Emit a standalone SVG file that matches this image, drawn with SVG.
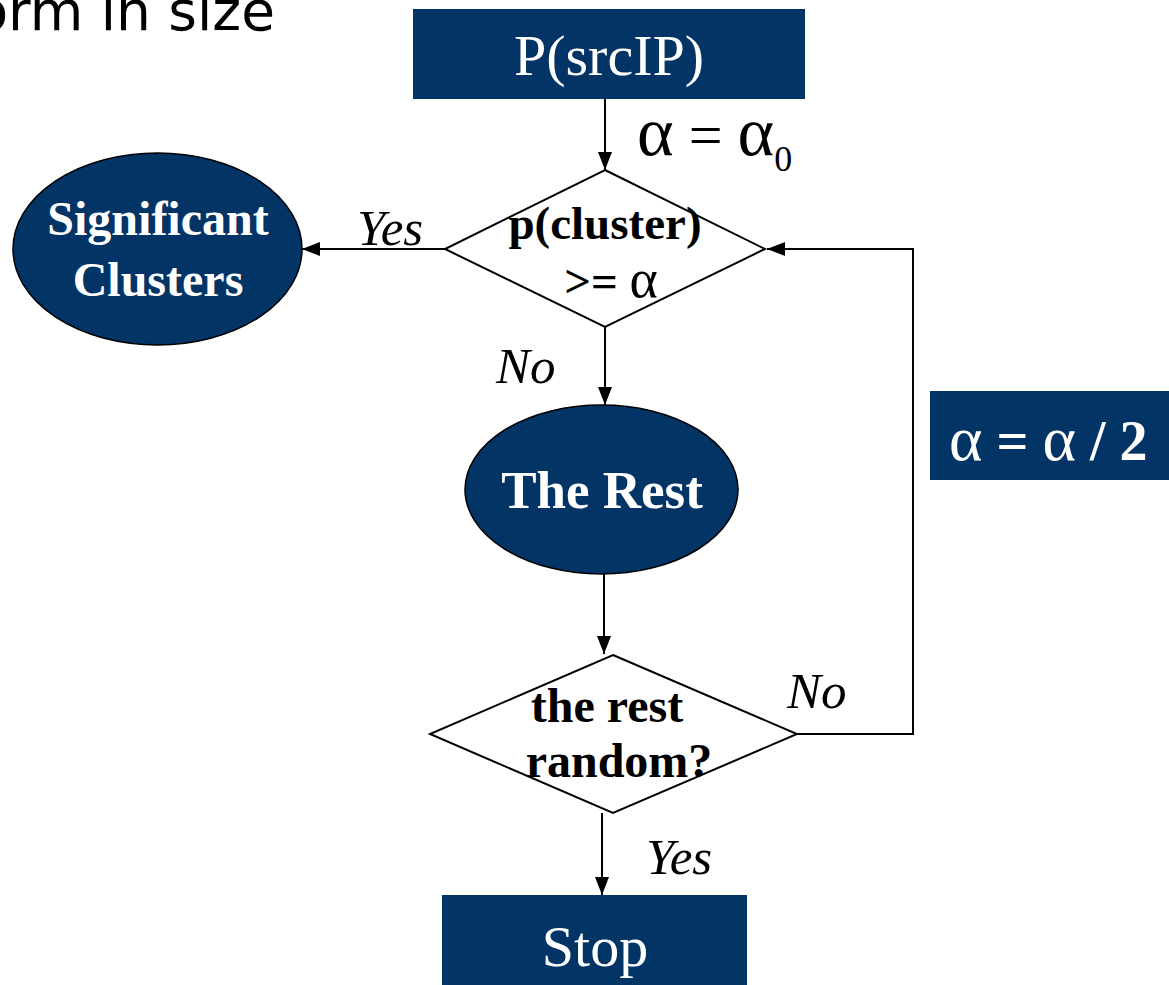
<svg xmlns="http://www.w3.org/2000/svg" width="1169" height="985" viewBox="0 0 1169 985">
  <style>
    .box { fill: #033466; }
    .oval { fill: #033466; stroke: #000; stroke-width: 1.5; }
    .dia { fill: #fff; stroke: #000; stroke-width: 2; }
    .wt { fill: #fff; font-family: "Liberation Serif", "Times New Roman", serif; }
    .bt { fill: #000; font-family: "Liberation Serif", "Times New Roman", serif; font-weight: bold; }
    .lbl { fill: #000; font-family: "Liberation Serif", "Times New Roman", serif; font-style: italic; font-size: 51px; }
    .edge { fill: none; stroke: #000; stroke-width: 2; }
    .greek { font-weight: normal; }
  </style>
  <defs>
    <marker id="arrow" viewBox="0 0 18 14" refX="18" refY="7" markerWidth="18" markerHeight="14" markerUnits="userSpaceOnUse" orient="auto">
      <path d="M0,0 L18,7 L0,14 Z" fill="#000"/>
    </marker>
  </defs>

  <rect width="1169" height="985" fill="#fff"/>

  <!-- heading fragment running off the top edge -->
  <text x="275" y="30" text-anchor="end" font-family="'DejaVu Sans', Verdana, sans-serif" font-size="55" fill="#000">orm in size</text>

  <!-- connectors -->
  <g id="connectors">
    <line class="edge" x1="605" y1="99" x2="605" y2="170" marker-end="url(#arrow)"/>
    <line class="edge" x1="445" y1="249" x2="302" y2="249" marker-end="url(#arrow)"/>
    <line class="edge" x1="605" y1="327" x2="605" y2="405" marker-end="url(#arrow)"/>
    <line class="edge" x1="604" y1="574" x2="604" y2="654" marker-end="url(#arrow)"/>
    <path class="edge" d="M797,734 H913 V249 H767" marker-end="url(#arrow)"/>
    <line class="edge" x1="602" y1="813" x2="602" y2="895" marker-end="url(#arrow)"/>
    <text class="lbl" x="357" y="245">Yes</text>
    <text class="lbl" x="496" y="383">No</text>
    <text class="lbl" x="787" y="708">No</text>
    <text class="lbl" x="646" y="874">Yes</text>
  </g>

  <g id="start">
    <rect class="box" x="413" y="9" width="392" height="90"/>
    <text class="wt" x="609" y="75" text-anchor="middle" font-size="58">P(srcIP)</text>
  </g>

  <g id="init-alpha">
    <text x="637" y="155" font-family="'Liberation Serif', 'Times New Roman', serif" font-size="60" fill="#000"><tspan font-size="70">α</tspan> = <tspan font-size="70">α</tspan><tspan font-size="36" dy="16">0</tspan></text>
  </g>

  <g id="test-cluster">
    <polygon class="dia" points="605,170 765,249 605,327 445,249"/>
    <text class="bt" x="605" y="239" text-anchor="middle" font-size="47">p(cluster)</text>
    <text class="bt" x="611" y="297" text-anchor="middle" font-size="47">&gt;= <tspan class="greek" font-size="54">α</tspan></text>
  </g>

  <g id="significant">
    <ellipse class="oval" cx="157.5" cy="249" rx="144.5" ry="96"/>
    <text class="wt" x="158" y="235" text-anchor="middle" font-size="48" font-weight="bold">Significant</text>
    <text class="wt" x="158" y="296" text-anchor="middle" font-size="48" font-weight="bold">Clusters</text>
  </g>

  <g id="the-rest">
    <ellipse class="oval" cx="601.5" cy="489.5" rx="136.5" ry="84.5"/>
    <text class="wt" x="602" y="508" text-anchor="middle" font-size="53" font-weight="bold">The Rest</text>
  </g>

  <g id="halve-alpha">
    <rect class="box" x="930" y="391" width="239" height="89"/>
    <text class="wt" x="949" y="460" font-size="56" font-weight="bold"><tspan class="greek" font-size="64">α</tspan> = <tspan class="greek" font-size="64">α</tspan> / 2</text>
  </g>

  <g id="test-random">
    <polygon class="dia" points="613,655 797,734 613,813 430,734"/>
    <text class="bt" x="607" y="722" text-anchor="middle" font-size="48">the rest</text>
    <text class="bt" x="619" y="777" text-anchor="middle" font-size="48">random?</text>
  </g>

  <g id="stop">
    <rect class="box" x="442" y="895" width="305" height="95"/>
    <text class="wt" x="595" y="966" text-anchor="middle" font-size="58">Stop</text>
  </g>
</svg>
